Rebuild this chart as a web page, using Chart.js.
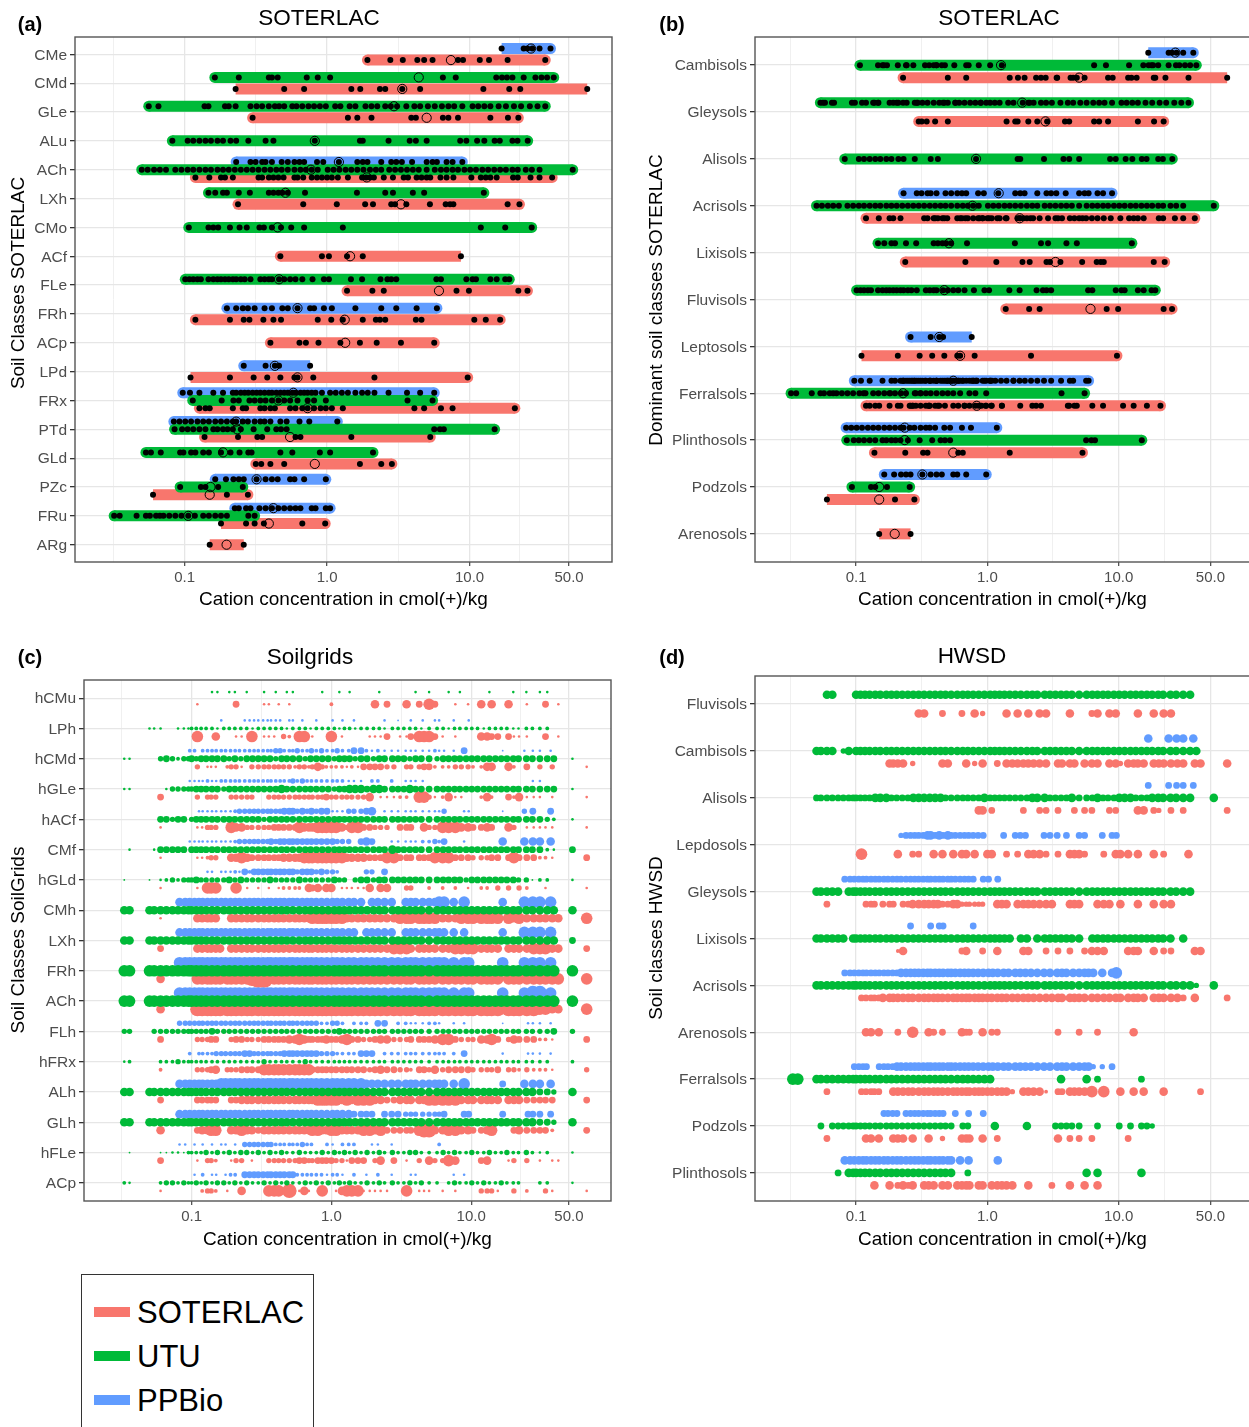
<!DOCTYPE html>
<html>
<head>
<meta charset="utf-8">
<title>Cation concentration by soil class</title>
<script src="https://cdn.jsdelivr.net/npm/chart.js@4"></script>
<style>
  html, body { margin: 0; background: #fff; }
  body { position: relative; width: 1249px; height: 1427px; overflow: hidden; font-family: "Liberation Sans", Arial, sans-serif; color: #000; }
  canvas { position: absolute; }
  .txt { position: absolute; white-space: nowrap; transform: translate(-50%, -50%); }
  .tag { font-weight: 700; font-size: 20px; }
  .title { font-size: 22.5px; }
  .ytitle { font-size: 19px; transform: translate(-50%, -50%) rotate(-90deg); }
  #legend { position: absolute; left: 81px; top: 1274px; width: 231px; height: 170px; border: 1.5px solid #333; }
  .key { position: absolute; left: 12px; width: 36px; height: 10px; }
  .keytxt { position: absolute; left: 55px; font-size: 31px; line-height: 36px; }
</style>
</head>
<body>
<canvas id="a" width="620" height="613" style="left:0;top:0"></canvas>
<canvas id="b" width="620" height="613" style="left:640px;top:0"></canvas>
<canvas id="c" width="620" height="614" style="left:0;top:640px"></canvas>
<canvas id="d" width="620" height="614" style="left:640px;top:640px"></canvas>

<div class="txt tag" style="left:30px;top:24px">(a)</div>
<div class="txt tag" style="left:672px;top:24px">(b)</div>
<div class="txt tag" style="left:30px;top:657px">(c)</div>
<div class="txt tag" style="left:672px;top:657px">(d)</div>
<div class="txt title" style="left:319px;top:18px">SOTERLAC</div>
<div class="txt title" style="left:999px;top:18px">SOTERLAC</div>
<div class="txt title" style="left:310px;top:657px">Soilgrids</div>
<div class="txt title" style="left:972px;top:656px">HWSD</div>
<div class="txt ytitle" style="left:18px;top:283px">Soil Classes SOTERLAC</div>
<div class="txt ytitle" style="left:656px;top:300px">Dominant soil classes SOTERLAC</div>
<div class="txt ytitle" style="left:18px;top:940px">Soil Classes SoilGrids</div>
<div class="txt ytitle" style="left:656px;top:938px">Soil classes HWSD</div>

<div id="legend">
  <div class="key" style="top:32px;background:#F8766D"></div><div class="keytxt" style="top:20px">SOTERLAC</div>
  <div class="key" style="top:76px;background:#00BA38"></div><div class="keytxt" style="top:64px">UTU</div>
  <div class="key" style="top:120px;background:#619CFF"></div><div class="keytxt" style="top:108px">PPBio</div>
</div>

<script>
const COLOR_SOTERLAC = "#F8766D";
const COLOR_UTU = "#00BA38";
const COLOR_PPBIO = "#619CFF";
const FONT_FAMILY = '"Liberation Sans", Arial, sans-serif';

const X_TITLE = "Cation concentration in cmol(+)/kg";
const xTickValues = [0.1, 1, 10, 50];
const xTickLabels = ["0.1", "1.0", "10.0", "50.0"];
const xMinorValues = [0.0316, 0.316, 3.16, 22.4];

// panel (a): samples per SOTERLAC class. s = SOTERLAC, u = UTU, p = PPBio
const pCMe = [16.8, 24, 25.5, 27.6, 31, 37];
const sCMe = [1.92, 2.78, 3.4, 4.3, 4.8, 5.5, 8.3, 9, 11.8, 13.7, 18.5, 34];
const uCMd = [0.163, 0.24, 0.39, 0.41, 0.45, 0.72, 0.86, 1.05, 6.5, 8, 15.4, 16.9, 18.3, 20, 24, 29, 32, 35, 39];
const sCMd = [0.228, 0.5, 0.69, 1.48, 1.71, 2.35, 2.56, 3.37, 4.5, 12.5, 19, 22.7, 67];
const uGLe = [0.056, 0.0655, 0.138, 0.147, 0.192, 0.204, 0.228, 0.29, 0.32, 0.35, 0.39, 0.43, 0.46, 0.5, 0.57, 0.61, 0.67, 0.74, 0.81, 0.89, 0.98, 1.14, 1.24, 1.44, 1.58, 1.86, 2.05, 2.25, 2.56, 2.8, 3.1, 3.6, 4.1, 4.5, 5.1, 5.7, 6.4, 7.1, 7.8, 8.9, 10.5, 11.5, 12.7, 14, 16, 18, 20.5, 23, 26.5, 30, 34];
const sGLe = [0.3, 1.4, 1.63, 2.05, 3.9, 4.2, 6.5, 7.1, 8.3, 14, 18.6, 22];
const uALu = [0.082, 0.105, 0.115, 0.127, 0.14, 0.153, 0.17, 0.186, 0.21, 0.23, 0.28, 0.37, 0.42, 0.82, 1.7, 1.78, 2.7, 3.8, 4.2, 5, 8.6, 9.5, 11.3, 12.7, 15, 16.3, 20, 21.7, 25.6];
const pACh = [0.23, 0.29, 0.315, 0.35, 0.37, 0.41, 0.48, 0.53, 0.59, 0.64, 0.69, 0.85, 0.94, 1.21, 1.63, 1.78, 1.92, 2.4, 2.82, 3.06, 3.35, 3.95, 5, 5.5, 5.9, 6.9, 7.6, 8.9];
const uACh = [0.05, 0.055, 0.061, 0.067, 0.074, 0.086, 0.095, 0.105, 0.115, 0.127, 0.14, 0.153, 0.17, 0.186, 0.204, 0.225, 0.248, 0.273, 0.3, 0.33, 0.364, 0.4, 0.44, 0.48, 0.53, 0.59, 0.65, 0.71, 0.78, 0.86, 1.01, 1.11, 1.22, 1.35, 1.48, 1.63, 1.8, 2, 2.2, 2.4, 2.73, 3, 3.3, 3.64, 4, 4.4, 5, 5.7, 6.3, 6.9, 7.6, 8.3, 9.2, 10.1, 11.1, 12.3, 13.5, 14.9, 16.4, 18, 20, 21.8, 24.8, 27.4, 31, 53];
const sACh = [0.119, 0.149, 0.18, 0.192, 0.218, 0.33, 0.35, 0.39, 0.42, 0.455, 0.495, 0.59, 0.62, 0.68, 0.78, 0.85, 0.92, 1, 1.08, 1.19, 1.4, 1.76, 1.88, 2, 2.13, 2.5, 2.9, 3.45, 3.7, 4.25, 4.6, 5, 5.3, 6.25, 6.9, 7.7, 10.3, 12, 13, 14, 15.5, 20.2, 21.8, 26.8, 31, 38];
const uLXh = [0.147, 0.164, 0.186, 0.198, 0.24, 0.287, 0.39, 0.42, 0.455, 0.485, 0.53, 0.7, 1.62, 2.56, 2.9, 4, 4.8, 12.6];
const sLXh = [0.237, 0.68, 1.17, 1.85, 2.1, 2.82, 3, 3.6, 5.27, 6.8, 7.3, 7.7, 18.5, 22.4];
const uCMo = [0.107, 0.147, 0.159, 0.172, 0.208, 0.243, 0.273, 0.335, 0.36, 0.41, 0.475, 0.56, 0.69, 1.29, 12, 17.8, 27.3];
const sACf = [0.47, 0.92, 1.03, 1.38, 1.78, 8.7];
const uFLe = [0.101, 0.108, 0.115, 0.123, 0.13, 0.147, 0.159, 0.17, 0.18, 0.192, 0.204, 0.218, 0.23, 0.248, 0.264, 0.29, 0.34, 0.364, 0.39, 0.41, 0.46, 0.5, 0.55, 0.6, 0.67, 0.79, 0.95, 1.03, 1.47, 1.76, 2.37, 2.65, 2.82, 3.06, 5.85, 6.3, 9.5, 10.5, 11.1, 14, 15.5, 17.8, 19];
const sFLe = [1.38, 2.08, 2.5, 8.1, 9.9, 22, 25.5];
const pFRh = [0.198, 0.23, 0.256, 0.278, 0.31, 0.364, 0.41, 0.485, 0.53, 0.62, 0.76, 0.81, 0.95, 1.08, 1.58, 2.4, 3.06, 4.25, 5.9];
const sFRh = [0.119, 0.208, 0.26, 0.285, 0.357, 0.42, 0.475, 0.86, 1.07, 1.29, 1.78, 2.2, 2.35, 2.56, 4.2, 4.6, 10.8, 13, 16.4];
const sACp = [0.4, 0.64, 0.71, 0.87, 1.24, 1.7, 2.23, 3.3, 5.65];
const pLPd = [0.26, 0.37, 0.43, 0.46, 0.76];
const sLPd = [0.11, 0.208, 0.305, 0.38, 0.47, 0.59, 0.62, 0.8, 2.15, 9.7];
const pFRx = [0.097, 0.109, 0.127, 0.159, 0.186, 0.218, 0.23, 0.248, 0.264, 0.28, 0.3, 0.32, 0.34, 0.364, 0.39, 0.41, 0.44, 0.47, 0.5, 0.53, 0.57, 0.6, 0.65, 0.69, 0.73, 0.78, 0.83, 0.92, 1.05, 1.15, 1.27, 1.4, 1.58, 1.76, 1.93, 2.15, 2.7, 3.64, 4.5, 5.65];
const uFRx = [0.114, 0.182, 0.22, 0.24, 0.285, 0.31, 0.34, 0.37, 0.41, 0.455, 0.5, 0.55, 0.62, 0.73, 0.81, 0.98, 3.67, 5.5];
const sFRx = [0.127, 0.14, 0.15, 0.218, 0.256, 0.27, 0.34, 0.364, 0.4, 0.43, 0.55, 0.6, 0.67, 0.73, 0.81, 0.9, 0.98, 1.08, 1.29, 4.1, 4.8, 6.3, 7.6, 20.8];
const pPTd = [0.084, 0.092, 0.101, 0.111, 0.123, 0.135, 0.148, 0.164, 0.18, 0.198, 0.218, 0.23, 0.256, 0.278, 0.31, 0.34, 0.364, 0.4, 0.47, 0.52, 0.64, 0.75, 1.18];
const uPTd = [0.085, 0.096, 0.105, 0.115, 0.127, 0.14, 0.159, 0.17, 0.186, 0.2, 0.218, 0.248, 0.305, 0.38, 0.44, 0.475, 0.52, 5.65, 6.2, 6.6, 15];
const sPTd = [0.138, 0.237, 0.324, 0.35, 0.6, 0.65, 1.48, 5.3];
const uGLd = [0.0535, 0.058, 0.068, 0.093, 0.098, 0.111, 0.119, 0.135, 0.148, 0.18, 0.21, 0.243, 0.28, 0.295, 0.47, 0.57, 0.89, 1.05, 2.1];
const sGLd = [0.316, 0.345, 0.4, 0.5, 1.7, 2.4, 2.85];
const pPZc = [0.164, 0.195, 0.22, 0.24, 0.26, 0.32, 0.37, 0.41, 0.45, 0.55, 0.59, 0.69, 0.98];
const uPZc = [0.093, 0.13, 0.14, 0.172, 0.256];
const sPZc = [0.06, 0.198, 0.278];
const pFRu = [0.225, 0.24, 0.27, 0.29, 0.335, 0.37, 0.41, 0.455, 0.5, 0.55, 0.6, 0.65, 0.78, 0.83, 0.98, 1.05];
const uFRu = [0.032, 0.035, 0.046, 0.0535, 0.057, 0.063, 0.067, 0.071, 0.078, 0.086, 0.095, 0.106, 0.118, 0.135, 0.148, 0.164, 0.18, 0.198, 0.28, 0.31];
const sFRu = [0.18, 0.27, 0.31, 0.36, 0.67, 0.97];
const sARg = [0.15, 0.26];

// class, SOTERLAC, UTU, PPBio, medians in the same order
const panelARows = [
  ["CMe", sCMe, null, pCMe, [7.4, null, 27]],
  ["CMd", sCMd, uCMd, null, [3.37, 4.4, null]],
  ["GLe", sGLe, uGLe, null, [5, 2.95, null]],
  ["ALu", null, uALu, null, [null, 0.82, null]],
  ["ACh", sACh, uACh, pACh, [1.9, 0.77, 1.21]],
  ["LXh", sLXh, uLXh, null, [3.3, 0.51, null]],
  ["CMo", null, uCMo, null, [null, 0.45, null]],
  ["ACf", sACf, null, null, [1.45, null, null]],
  ["FLe", sFLe, uFLe, null, [6.1, 0.46, null]],
  ["FRh", sFRh, null, pFRh, [1.33, null, 0.62]],
  ["ACp", sACp, null, null, [1.34, null, null]],
  ["LPd", sLPd, null, pLPd, [0.62, null, 0.43]],
  ["FRx", sFRx, uFRx, pFRx, [0.73, 0.455, 0.58]],
  ["PTd", sPTd, uPTd, pPTd, [0.55, 0.234, 0.23]],
  ["GLd", sGLd, uGLd, null, [0.82, 0.186, null]],
  ["PZc", sPZc, uPZc, pPZc, [0.15, 0.152, 0.32]],
  ["FRu", sFRu, uFRu, pFRu, [0.39, 0.106, 0.42]],
  ["ARg", sARg, null, null, [0.197, null, null]],
];

// panel (b): the same samples grouped by dominant soil class
const panelBRows = [
  ["Cambisols", [...sCMe, ...sCMd], [...uCMd, ...uCMo], pCMe, [5, 1.27, 27]],
  ["Gleysols", [...sGLe, ...sGLd], [...uGLe, ...uGLd], null, [2.77, 1.84, null]],
  ["Alisols", null, uALu, null, [null, 0.82, null]],
  ["Acrisols", [...sACh, ...sACf, ...sACp], uACh, pACh, [1.76, 0.77, 1.22]],
  ["Lixisols", sLXh, uLXh, null, [3.3, 0.51, null]],
  ["Fluvisols", sFLe, uFLe, null, [6.1, 0.47, null]],
  ["Leptosols", sLPd, null, pLPd, [0.62, null, 0.43]],
  ["Ferralsols", [...sFRh, ...sFRx, ...sFRu], [...uFRx, ...uFRu], [...pFRh, ...pFRx, ...pFRu], [0.83, 0.228, 0.55]],
  ["Plinthosols", sPTd, uPTd, pPTd, [0.55, 0.235, 0.235]],
  ["Podzols", sPZc, uPZc, pPZc, [0.15, 0.15, 0.32]],
  ["Arenosols", sARg, null, null, [0.197, null, null]],
];

// concentrations shared by the weighted panels (c) and (d)
const utuConc = [
  0.033, 0.036, 0.05, 0.054, 0.06, 0.066, 0.073, 0.08, 0.088, 0.095,
  0.1, 0.108, 0.117, 0.127, 0.14, 0.153, 0.17, 0.186, 0.204, 0.225, 0.248, 0.273, 0.3,
  0.33, 0.364, 0.4, 0.44, 0.48, 0.53, 0.59, 0.65, 0.71, 0.78, 0.86, 0.95,
  1.05, 1.14, 1.24, 1.35, 1.48, 1.63, 1.8, 2, 2.2, 2.4, 2.73, 3,
  3.3, 3.64, 4, 4.4, 5, 5.7, 6.3, 6.9, 7.6, 8.3, 9.2,
  10.1, 11.1, 12.3, 13.5, 14.9, 16.4, 18, 20, 21.8, 24.8, 27.4,
  31, 35, 39, 53,
];
const soterlacConc = [
  0.06,
  0.11, 0.119, 0.13, 0.138, 0.149, 0.16, 0.18, 0.192, 0.208, 0.228, 0.25, 0.27, 0.3,
  0.33, 0.357, 0.39, 0.42, 0.455, 0.5, 0.55, 0.59, 0.64, 0.69, 0.73, 0.8, 0.86, 0.92,
  1, 1.08, 1.19, 1.29, 1.4, 1.55, 1.7, 1.88, 2.05, 2.25, 2.5, 2.8,
  3.1, 3.45, 3.7, 4.25, 4.6, 5, 5.5, 6.25, 6.9, 7.7, 8.5, 9.5,
  10.3, 11.8, 13, 14, 15.5, 18.5, 20.2, 22, 25, 28,
  31, 34, 38, 42, 67,
];
const ppbioConc = [
  0.082, 0.09, 0.097, 0.105, 0.113, 0.12, 0.13, 0.14, 0.15, 0.163, 0.175, 0.19, 0.205, 0.22, 0.24, 0.26, 0.28, 0.3,
  0.325, 0.35, 0.37, 0.4, 0.43, 0.46, 0.5, 0.53, 0.57, 0.62, 0.67, 0.72, 0.78, 0.85, 0.93,
  1.02, 1.1, 1.2, 1.33, 1.45, 1.63, 1.78, 1.95, 2.15, 2.4, 2.7, 3,
  3.4, 3.7, 4, 4.5, 5, 5.5, 5.9, 6.4, 7.5, 8.9, 9.6,
  16.8, 24, 25.5, 27.6, 31, 37,
];

// weight classes 0-9 per concentration above, one string per soil class (0 = no weight)
const soilgridsClasses = ["hCMu", "LPh", "hCMd", "hGLe", "hACf", "CMf", "hGLd", "CMh", "LXh", "FRh", "ACh", "FLh", "hFRx", "ALh", "GLh", "hFLe", "ACp"];
const soilgridsUtu = [
  "0000000000 0000220220200 202022000020 020200002000 00202002020 00020002020 2200",
  "0022200222 3333323333323 333323332333 323323333233 33323332333 33233332233 3300",
  "2200454344 5455555454555 554555545555 455545545555 54555455555 55555555555 5552",
  "2200024444 4555554555555 555655555555 455666566555 56555555555 55555555555 5552",
  "0000554550 4555555555555 455555555555 555555555555 55555555555 55555555555 5432",
  "0202555550 5555555555555 555555555555 555555555565 55555555555 55555555555 5325",
  "1010234344 4544444545444 454444544444 544045545555 55555555554 55555555441 3302",
  "6666666666 6666666666666 666666666666 666666666666 66666666666 66666666666 6666",
  "6666666666 6666666666666 666666666666 666666666666 66666666666 66666666666 6665",
  "7777777777 7777777777777 777777777777 777777777777 77777777777 77777777777 7777",
  "7777777777 7777777777777 777777777777 777777777777 77777777777 77777777777 7777",
  "4404444444 4444544444444 444444444444 454444444444 44444444444 44444444444 4454",
  "2300333433 3333333333333 433333343333 333333333333 33333333333 33333333333 3303",
  "6666666666 6666666666666 666666666666 666666666666 66666666666 66666666666 5546",
  "6666666666 6666666666666 666666666666 666666666666 66666666666 66666666666 5546",
  "0100112213 3334343434434 343433433343 434343434343 34433343433 43343343343 2302",
  "3200344343 3434344343433 434343343434 343433434343 34343303433 43433433300 3302",
];
const soilgridsPpbio = [
  "",
  "000000000200002222 222220220200200 202020000201 02020220202 000000",
  "003303333333333333 333443334334343 343355323222 22222322250 120222",
  "002222322333333333 333333343433333 333222033030 22220000000 000220",
  "000022222222344444 444445554545455 222444560222 22222224022 140505",
  "002222222222344444 445455555555555 544405650022 22233435020 660666",
  "000000220222325355 555555554555454 430000440500 00000000000 000000",
  "666666666666666666 666666666666666 666666066660 66666677670 670777",
  "666666666666666666 666666666666666 666660666660 66666666660 670777",
  "777777777777777777 777777777777777 777777777777 77777777777 770777",
  "777777777777777777 777777777777777 777777777777 77777777777 770887",
  "444444444444444444 444444444444433 443033305503 32223320220 102222",
  "003033334444445544 444445555555544 433335550333 33333333350 202222",
  "666666666777777777 777777777777777 777777666666 66666666670 560666",
  "666666666666666666 666666666666666 666655550555 44444445055 505555",
  "220202020220204444 444333333433003 203330022020 00000030000 000000",
  "000203022023305555 555555553333332 332030203020 02200000220 000000",
];
const soilgridsSoterlac = [
  "0 2000000050000 22020200000000 300000006050 060507500202 0606060020 05020",
  "0 7000600022070 22204307722000 702000022250 225777520200 0665552220 05020",
  "0 4022203442044 44444434434643 333232555544 044455333444 3366063050 40402",
  "5 4044400444440 04444444444445 444444460222 330774236220 0363053622 20202",
  "2 2244400766444 44555557666777 776477554440 555064477766 5565064022 22202",
  "2 2234400667655 55556666777777 777666655577 555555777555 4445557555 33205",
  "2 2077700070202 02023333065606 602222260660 044003030302 0330440430 02002",
  "2 6666600666666 66666666667777 777666666666 777777766677 7777776766 66667",
  "5 6666660666666 66666666666666 666666666667 776666666777 7666666667 77665",
  "6 7777777777789 97777777777777 777777777777 777777777777 7777777777 77777",
  "6 8888888888888 88888888888888 888888888888 888888888888 8888888888 77667",
  "5 4445500455444 55555667655556 556755445664 445555677544 4667546555 33205",
  "3 4445604445555 77777777775555 555555545655 443554645555 4444544343 33204",
  "5 5555500556666 66666666666777 776767776655 666667777766 6666666655 55505",
  "6 5667700667665 66666666667766 776666776755 555788667766 5567005655 55305",
  "5 2044300244020 04444445544555 544255504605 020406447600 0560024040 20220",
  "2 0344302006000 07770822620272 026777222220 072222020200 0444204030 04202",
];

const hwsdClasses = ["Fluvisols", "Cambisols", "Alisols", "Lepdosols", "Gleysols", "Lixisols", "Acrisols", "Arenosols", "Ferralsols", "Podzols", "Plinthosols"];
const hwsdUtu = [
  "0000660000 6666666666666 666666666666 666666666666 66666666666 66666666666 6600",
  "0066660460 6666666666666 666666666666 666666666666 66666666666 66666666666 6660",
  "0055555555 5555666555566 666655555556 555555556665 55565556555 66655566666 6606",
  "",
  "0066666066 6666666666666 666666666666 666666666666 66666666666 66666666666 6600",
  "0066666606 6666666666666 666666666666 666660660666 66666066666 66666666660 6000",
  "0066666666 6666666666666 666666666666 666666666666 66666666666 66666666666 6646",
  "",
  "7766666666 6666666666666 666666666666 600000000000 06000605000 00005000000 0000",
  "0005055555 5555555555555 555555055000 060000060000 55555005000 50505540000 0000",
  "0000005066 6666666666666 666666005000 000000000000 00000606000 00006000000 0000",
];
const hwsdPpbio = [
  "",
  "000000000000000000 000000000000000 000000000000 00000000000 660666",
  "000000000000000000 000000000000000 000000000000 00000000000 550555",
  "000000000000045555 566565655555555 000505550055 50505500555 000000",
  "555555555555555555 555555555555505 505000000000 00000000000 000000",
  "000000000000000500 005055000000500 000000000000 00000000000 000000",
  "555555555555566666 666666666666666 666666666666 66666666667 000000",
  "",
  "005555005555666666 666666666666666 666666666666 66666664450 000000",
  "000000000555505555 555555005005005 000000000000 00000000000 000000",
  "666666666666666666 666666660606000 006000000000 00000000000 000000",
];
const hwsdSoterlac = [
  "0 0000000000006 60005000500604 000060606066 000600056066 0006060660 00000",
  "0 0000006666040 00006600060406 005066666666 066660666066 4666666666 60666",
  "0 0000000000000 00000000000066 050000050055 050050550055 0006654050 50005",
  "0 7000000060055 00606060660600 660050506665 050666500506 6606060500 06000",
  "5 0555055505566 66665566444444 006660666666 600666006660 6006060660 00000",
  "0 0000000036000 00000000560005 006000066005 050500566600 0666060550 00660",
  "0 5555566666666 66666666666666 666666666666 666666666666 6666666666 50605",
  "0 0660600050070 06505000655006 055000000000 050005005000 0060000000 00000",
  "5 5555500666666 66666666666666 666664066663 055666670700 6060600600 00050",
  "5 0660600666060 06004000666006 005000000000 060505050000 0500000000 00000",
  "0 0006006056560 66606606666066 066666006000 500600606000 0000000000 00000",
];

// bar ends cut square in the reference, l = low end, r = high end
const panelAFlatEnds = { "CMe p": "l", "CMd s": "lr", "ACf s": "r", "LPd s": "l", "LPd p": "r", "PZc s": "l", "FRu s": "l", "ARg s": "lr" };
const panelBFlatEnds = { "Cambisols p": "l", "Cambisols s": "r", "Leptosols s": "l", "Leptosols p": "r", "Podzols s": "l", "Arenosols s": "lr" };

const WEIGHT_RADIUS = [0, 0.9, 1.3, 1.9, 2.7, 3.4, 4.3, 5.8, 7.2, 9];
const BAR_WIDTH = 11;
const DODGE_WIDTH = 0.8;

function dodge(position, count) {
  return ((position - (count - 1) / 2) * DODGE_WIDTH) / count;
}

const chartAreaBorder = {
  id: "chartAreaBorder",
  afterDraw(chart) {
    const { ctx, chartArea: { left, top, width, height } } = chart;
    ctx.save();
    ctx.strokeStyle = "#555";
    ctx.lineWidth = 1.4;
    ctx.strokeRect(left, top, width, height);
    ctx.restore();
  },
};

// rows are drawn PPBio on top, then UTU, then SOTERLAC at the bottom of the band
function barDatasets(rows, flatEnds) {
  const bars = [];
  const dots = [];
  const medians = [];
  rows.forEach(([name, soter, utu, ppbio, med], row) => {
    const present = [
      { key: "p", values: ppbio, color: COLOR_PPBIO, median: med[2] },
      { key: "u", values: utu, color: COLOR_UTU, median: med[1] },
      { key: "s", values: soter, color: COLOR_SOTERLAC, median: med[0] },
    ].filter((item) => item.values);
    present.forEach((item, i) => {
      const y = row + dodge(i, present.length);
      const flat = flatEnds[`${name} ${item.key}`] || "";
      bars.push({
        key: item.key,
        showLine: true,
        data: [{ x: Math.min(...item.values), y }, { x: Math.max(...item.values), y }],
        borderColor: item.color,
        borderWidth: BAR_WIDTH,
        borderCapStyle: "butt",
        pointRadius: [flat.includes("l") ? 0 : BAR_WIDTH / 2, flat.includes("r") ? 0 : BAR_WIDTH / 2],
        pointBackgroundColor: item.color,
        pointBorderWidth: 0,
      });
      dots.push({
        data: item.values.map((x) => ({ x, y })),
        pointRadius: 3,
        pointBackgroundColor: "#000",
        pointBorderWidth: 0,
      });
      medians.push({
        data: [{ x: item.median, y }],
        pointRadius: 4.6,
        pointBackgroundColor: "rgba(0,0,0,0)",
        pointBorderColor: "#000",
        pointBorderWidth: 1,
      });
    });
  });
  const paint = ["s", "p", "u"].flatMap((key) => bars.filter((bar) => bar.key === key));
  // Chart.js paints the first dataset last
  return [...paint, ...dots, ...medians].reverse();
}

function weightedDatasets(classes, soterlac, utu, ppbio) {
  const paint = { s: [], p: [], u: [] };
  classes.forEach((name, row) => {
    const present = [
      { key: "p", weights: ppbio[row], conc: ppbioConc, color: COLOR_PPBIO },
      { key: "u", weights: utu[row], conc: utuConc, color: COLOR_UTU },
      { key: "s", weights: soterlac[row], conc: soterlacConc, color: COLOR_SOTERLAC },
    ].filter((item) => item.weights);
    present.forEach((item, i) => {
      const y = row + dodge(i, present.length);
      const digits = item.weights.replace(/ /g, "");
      const data = [];
      item.conc.forEach((x, k) => {
        const r = WEIGHT_RADIUS[Number(digits[k] || 0)];
        if (r) data.push({ x, y, r });
      });
      paint[item.key].push({ type: "bubble", data, backgroundColor: item.color, borderWidth: 0 });
    });
  });
  return [...paint.s, ...paint.p, ...paint.u].reverse();
}

function drawPanel(id, labels, datasets, { top, right, left, bottom, titleGap }) {
  new Chart(document.getElementById(id), {
    type: "scatter",
    data: { datasets },
    options: {
      responsive: false,
      animation: false,
      events: [],
      devicePixelRatio: 1,
      layout: { padding: { top, right, left: 0, bottom: 0 } },
      plugins: { legend: { display: false }, tooltip: { enabled: false } },
      scales: {
        x: {
          type: "logarithmic",
          min: 0.017,
          max: 100,
          afterBuildTicks(scale) {
            scale.ticks = [...xMinorValues, ...xTickValues].sort((p, q) => p - q).map((value) => ({ value }));
          },
          afterFit(scale) {
            scale.height = bottom;
          },
          border: { display: false },
          grid: {
            color: (ctx) => (xTickValues.includes(ctx.tick.value) ? "#E6E6E6" : "#F0F0F0"),
            lineWidth: (ctx) => (xTickValues.includes(ctx.tick.value) ? 1.3 : 1),
            tickColor: (ctx) => (xTickValues.includes(ctx.tick.value) ? "#555" : "rgba(0,0,0,0)"),
            tickLength: 4,
          },
          ticks: {
            autoSkip: false,
            maxRotation: 0,
            padding: 3,
            color: "#4D4D4D",
            font: { size: 15, family: FONT_FAMILY },
            callback: (value) => xTickLabels[xTickValues.indexOf(value)] || "",
          },
          title: {
            display: true,
            text: X_TITLE,
            color: "#000",
            font: { size: 19, family: FONT_FAMILY },
            padding: { top: 0, bottom: titleGap },
          },
        },
        y: {
          type: "linear",
          reverse: true,
          min: -0.6,
          max: labels.length - 0.4,
          afterBuildTicks(scale) {
            scale.ticks = labels.map((_, value) => ({ value }));
          },
          afterFit(scale) {
            scale.width = left;
          },
          border: { display: false },
          grid: { color: "#E6E6E6", lineWidth: 1.3, tickColor: "#333", tickLength: 5 },
          ticks: {
            autoSkip: false,
            padding: 3,
            labelOffset: 1,
            color: "#4D4D4D",
            font: { size: 15.5, family: FONT_FAMILY },
            callback: (value) => labels[value],
          },
        },
      },
    },
    plugins: [chartAreaBorder],
  });
}

drawPanel("a", panelARows.map((row) => row[0]), barDatasets(panelARows, panelAFlatEnds),
  { top: 37, right: 8, left: 75, bottom: 51, titleGap: 2 });
drawPanel("b", panelBRows.map((row) => row[0]), barDatasets(panelBRows, panelBFlatEnds),
  { top: 37, right: 10, left: 115, bottom: 51, titleGap: 2 });
drawPanel("c", soilgridsClasses, weightedDatasets(soilgridsClasses, soilgridsSoterlac, soilgridsUtu, soilgridsPpbio),
  { top: 40, right: 8, left: 84, bottom: 53, titleGap: 3 });
drawPanel("d", hwsdClasses, weightedDatasets(hwsdClasses, hwsdSoterlac, hwsdUtu, hwsdPpbio),
  { top: 36, right: 10, left: 115, bottom: 53, titleGap: 3 });
</script>
</body>
</html>
